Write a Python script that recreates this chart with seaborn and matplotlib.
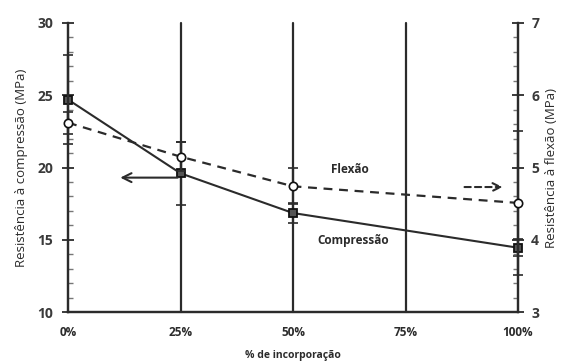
import matplotlib
matplotlib.use("Agg")
import matplotlib.pyplot as plt
import seaborn as sns
import pandas as pd
from matplotlib.ticker import MultipleLocator

# ---- data ----
incorporacao = [0, 25, 50, 100]
x_ticks = [0, 25, 50, 75, 100]
x_tick_labels = ["0%", "25%", "50%", "75%", "100%"]
compressao = [24.7, 19.6, 16.85, 14.45]
compressao_err = [3.1, 2.2, 0.7, 0.6]
flexao = [5.62, 5.15, 4.74, 4.51]
flexao_err = [0.15, 0.2, 0.25, 1.0]

sns.set_theme(style="white")
plt.rcParams["font.family"] = ["Open Sans", "DejaVu Sans"]

df_c = pd.DataFrame({"x": incorporacao, "y": compressao})
df_f = pd.DataFrame({"x": incorporacao, "y": flexao})

fig = plt.figure(figsize=(5.65, 3.62), dpi=100)
ax = fig.add_axes([0.1204, 0.138, 0.7964, 0.7985])
ax2 = ax.twinx()

dark = "#2b2b2b"

# vertical gridlines
for xv in [25, 50, 75]:
    ax.axvline(xv, color=dark, lw=1.6, zorder=1)

# error bars
ax.errorbar(incorporacao, compressao, yerr=compressao_err, fmt="none",
            ecolor=dark, elinewidth=1.6, capsize=3.5, capthick=1.2, zorder=2)
ax2.errorbar(incorporacao, flexao, yerr=flexao_err, fmt="none",
             ecolor=dark, elinewidth=1.6, capsize=3.5, capthick=1.2, zorder=2)

sns.lineplot(data=df_c, x="x", y="y", ax=ax, color=dark, lw=1.5,
             marker="s", markersize=5.5, markerfacecolor="#555555",
             markeredgecolor="#111111", markeredgewidth=1.3, zorder=4)
sns.lineplot(data=df_f, x="x", y="y", ax=ax2, color=dark, lw=1.6,
             linestyle=(0, (4, 3)), marker="o", markersize=6,
             markerfacecolor="white", markeredgecolor="#111111",
             markeredgewidth=1.2, zorder=4)

for a in (ax, ax2):
    for ln in a.lines:
        ln.set_clip_on(False)
    for coll in a.collections:
        coll.set_clip_on(False)

ax.set_xlim(0, 100)
ax.set_ylim(10, 30)
ax2.set_ylim(3, 7)
ax.set_xticks(x_ticks)
ax.set_xticklabels(x_tick_labels)
ax.yaxis.set_major_locator(MultipleLocator(5))
ax.yaxis.set_minor_locator(MultipleLocator(1))
ax2.yaxis.set_major_locator(MultipleLocator(1))
ax2.yaxis.set_minor_locator(MultipleLocator(0.2))

for a in (ax, ax2):
    for s in a.spines.values():
        s.set_color(dark)
        s.set_linewidth(1.6)
    a.spines["top"].set_visible(False)
    a.grid(False)

ax.tick_params(axis="y", which="major", direction="inout", length=9, width=1.3,
               colors=dark, labelsize=10, pad=6)
ax.tick_params(axis="y", which="minor", direction="in", length=3.5, width=1.0, colors="#777777")
ax.tick_params(axis="x", which="major", length=0, labelsize=8.5, pad=10, colors=dark)
ax2.tick_params(axis="y", which="major", direction="inout", length=9, width=1.3,
                colors=dark, labelsize=10, pad=5)
ax2.tick_params(axis="y", which="minor", direction="in", length=3.5, width=1.0, colors="#777777")

for lbl in ax.get_xticklabels():
    lbl.set_fontweight("bold")
for lbl in ax.get_yticklabels() + ax2.get_yticklabels():
    lbl.set_fontweight("bold")
    lbl.set_color("#3a3a3a")

ax.set_xlabel("% de incorporação", fontsize=7.5, fontweight="bold", color=dark, labelpad=8)
ax.set_ylabel("Resistência à compressão (MPa)", fontsize=9.5, color=dark, labelpad=7)
ax2.set_ylabel("Resistência à flexão (MPa)", fontsize=9.5, color=dark, labelpad=4)

# annotations
ax.annotate("", xy=(11, 19.3), xytext=(25, 19.3),
            arrowprops=dict(arrowstyle="->", color=dark, lw=1.5,
                            mutation_scale=16), zorder=5)
ax.annotate("", xy=(97.2, 18.65), xytext=(87.5, 18.65),
            arrowprops=dict(arrowstyle="->", color=dark, lw=1.5,
                            linestyle=(0, (3, 2)), mutation_scale=14), zorder=5)
ax.text(62.7, 19.85, "Flexão", fontsize=8.5, fontweight="bold", color=dark,
        ha="center", va="center")
ax.text(63.3, 14.95, "Compressão", fontsize=8.5, fontweight="bold", color=dark,
        ha="center", va="center")

fig.savefig("out.png", dpi=100)
